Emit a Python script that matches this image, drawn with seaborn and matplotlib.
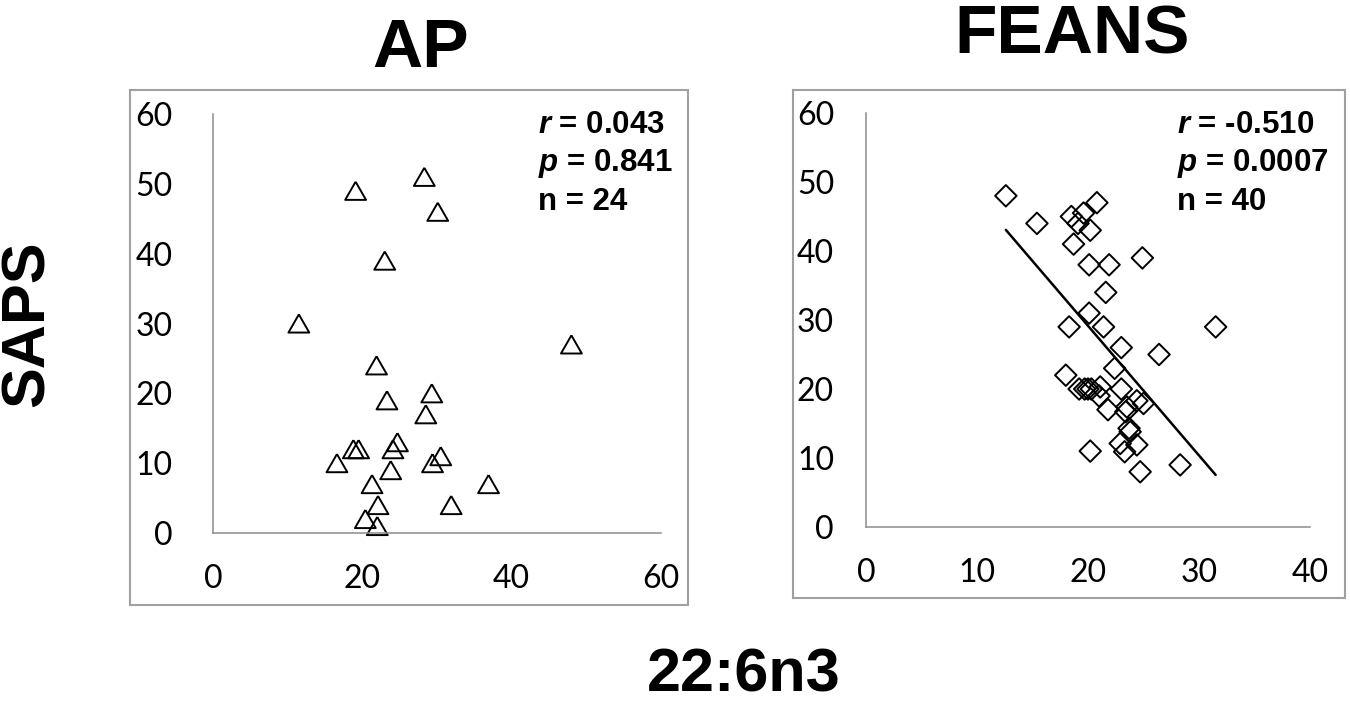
import matplotlib
matplotlib.use("Agg")
import matplotlib.pyplot as plt
from matplotlib.markers import MarkerStyle
from matplotlib.patches import Rectangle
import seaborn as sns

# AP panel: 22:6n3 vs SAPS (triangles)
AP_X = [19.1, 28.3, 30.1, 23.0, 11.5, 48.0, 21.9, 29.3, 23.3, 28.5, 24.7, 24.1,
        18.8, 19.5, 16.6, 30.5, 29.4, 23.8, 21.3, 36.9, 31.9, 22.1, 20.4, 22.0]
AP_Y = [49, 51, 46, 39, 30, 27, 24, 20, 19, 17, 13, 12,
        12, 12, 10, 11, 10, 9, 7, 7, 4, 4, 2, 1]

# FEANS panel (diamonds + fitted line)
FEANS_X = [12.6, 15.4, 20.8, 18.5, 19.6, 19.1, 20.2, 18.7, 20.1, 21.9, 24.9, 21.6,
           20.1, 18.3, 21.4, 31.5, 23.0, 26.4, 22.4, 18.0, 19.2, 19.7, 20.0, 20.3,
           21.1, 21.0, 23.0, 21.8, 23.5, 24.4, 25.0, 23.7, 23.8, 22.9, 24.4, 23.3,
           20.2, 24.7, 28.3, 23.4]
FEANS_Y = [48, 44, 47, 45, 45.5, 44, 43, 41, 38, 38, 39, 34,
           31, 29, 29, 29, 26, 25, 23, 22, 20, 20, 20, 20,
           20.3, 19, 20, 17, 17.4, 18.3, 17.9, 14.3, 13.8, 12.1, 11.9, 10.9,
           11, 8, 9, 16.7]

AP_STATS = ["$r$ = 0.043", "$p$ = 0.841", "n = 24"]
FEANS_STATS = ["$r$ = -0.510", "$p$ = 0.0007", "n = 40"]
Y_TICKS = [0, 10, 20, 30, 40, 50, 60]
AP_X_TICKS = [0, 20, 40, 60]
FEANS_X_TICKS = [0, 10, 20, 30, 40]

W, H = 1350, 707

sns.set_style("white")
plt.rcParams["font.family"] = ["Lato", "DejaVu Sans"]
plt.rcParams["text.color"] = "black"
plt.rcParams["mathtext.fontset"] = "custom"
plt.rcParams["mathtext.it"] = "Liberation Sans:italic:bold"
plt.rcParams["mathtext.rm"] = "Liberation Sans:bold"


def fx(px):
    return px / W


def fy(py):
    return 1 - py / H


def style_axes(ax, xticks, ypad):
    ax.set_xlim(xticks[0], xticks[-1])
    ax.set_ylim(0, 60)
    ax.set_xticks(xticks)
    ax.set_yticks(Y_TICKS)
    for side in ["top", "right"]:
        ax.spines[side].set_visible(False)
    for side in ["left", "bottom"]:
        ax.spines[side].set_color("#8c8c8c")
        ax.spines[side].set_linewidth(1.1)
    ax.tick_params(direction="out", length=8, width=1.1, color="#8c8c8c",
                   labelsize=23, labelcolor="black")
    ax.tick_params(axis="y", pad=ypad)
    ax.tick_params(axis="x", pad=14)
    ax.set_xlabel("")
    ax.set_ylabel("")
    ax.patch.set_alpha(0)


fig = plt.figure(figsize=(W / 100, H / 100), dpi=100)

# gray chart-area frames
fig.add_artist(Rectangle((fx(130), fy(605)), (688 - 130) / W, (605 - 90) / H,
                         transform=fig.transFigure, fill=False,
                         edgecolor="#a0a0a0", linewidth=1.5))
fig.add_artist(Rectangle((fx(793), fy(598)), (1345 - 793) / W, (598 - 90) / H,
                         transform=fig.transFigure, fill=False,
                         edgecolor="#a0a0a0", linewidth=1.5))

ax1 = fig.add_axes([fx(213), fy(533), (661 - 213) / W, (533 - 114) / H])
ax2 = fig.add_axes([fx(866), fy(527), (1310 - 866) / W, (527 - 113) / H])

tri = MarkerStyle([(0, 1), (-1.15, -1), (1.15, -1), (0, 1)])
sns.scatterplot(x=AP_X, y=AP_Y, marker=tri, s=225, facecolor="none",
                edgecolor="black", linewidth=1.4, clip_on=False, ax=ax1)
style_axes(ax1, AP_X_TICKS, 21)

sns.scatterplot(x=FEANS_X, y=FEANS_Y, marker="D", s=120, facecolor="none",
                edgecolor="black", linewidth=1.4, clip_on=False, ax=ax2)
sns.regplot(x=FEANS_X, y=FEANS_Y, scatter=False, ci=None, truncate=True,
            color="black", line_kws={"linewidth": 1.8, "zorder": 5}, ax=ax2)
style_axes(ax2, FEANS_X_TICKS, 15)

# stats blocks
stats_kw = dict(ha="left", va="top", fontsize=22.5, fontweight="bold",
                family="Liberation Sans", color="black", linespacing=1.3)
fig.text(fx(538), fy(110), "\n".join(AP_STATS), **stats_kw)
fig.text(fx(1177), fy(110), "\n".join(FEANS_STATS), **stats_kw)

# titles and shared labels
title_kw = dict(fontweight="bold", family="Liberation Sans", color="black")
fig.text(fx(421), fy(67), "AP", ha="center", va="baseline", fontsize=50, **title_kw)
fig.text(fx(1072), fy(53), "FEANS", ha="center", va="baseline", fontsize=50, **title_kw)
fig.text(fx(28), fy(324), "SAPS", ha="center", va="center", rotation=90,
         fontsize=44, **title_kw)
fig.text(fx(744), fy(705), "22:6n3", ha="center", va="bottom", fontsize=44, **title_kw)

fig.savefig("out.png", dpi=100)
